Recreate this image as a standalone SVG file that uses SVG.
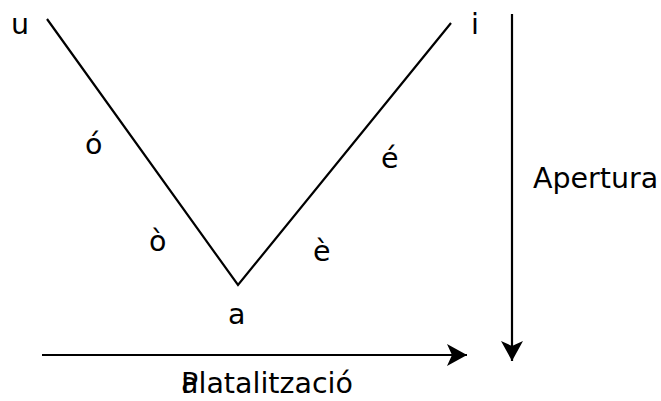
<svg xmlns="http://www.w3.org/2000/svg" width="661" height="401" viewBox="0 0 661 401">
<defs>
<marker id="ah2" viewBox="0 0 20 22" refX="20" refY="11" markerWidth="20" markerHeight="22" markerUnits="userSpaceOnUse" orient="auto">
<path d="M0,0 L20,11 L0,22 L5,11 Z" fill="#000"/>
</marker>
</defs>
<style>
text{font-family:"DejaVu Sans",sans-serif;font-size:28.5px;fill:#000}
.ln{stroke:#000;stroke-width:2.2;fill:none}
</style>
<rect width="661" height="401" fill="#fff"/>
<g id="connectors">
<path class="ln" d="M47,19 L238,285 L451,23"/>
<line class="ln" x1="512" y1="14" x2="512" y2="361" marker-end="url(#ah2)"/>
<line class="ln" x1="42" y1="355" x2="467" y2="355" marker-end="url(#ah2)"/>
</g>
<g id="u"><text x="11" y="34">u</text></g>
<g id="i"><text x="471" y="34">i</text></g>
<g id="o-acute"><text x="85" y="154">ó</text></g>
<g id="e-acute"><text x="381" y="168">é</text></g>
<g id="o-grave"><text x="149" y="251">ò</text></g>
<g id="e-grave"><text x="313" y="261">è</text></g>
<g id="a"><text x="228" y="324">a</text></g>
<g id="apertura"><text x="533" y="188">Apertura</text></g>
<g id="palatalitzacio"><text x="181" y="393">P</text><text x="181" y="393">alatalització</text></g>
</svg>
